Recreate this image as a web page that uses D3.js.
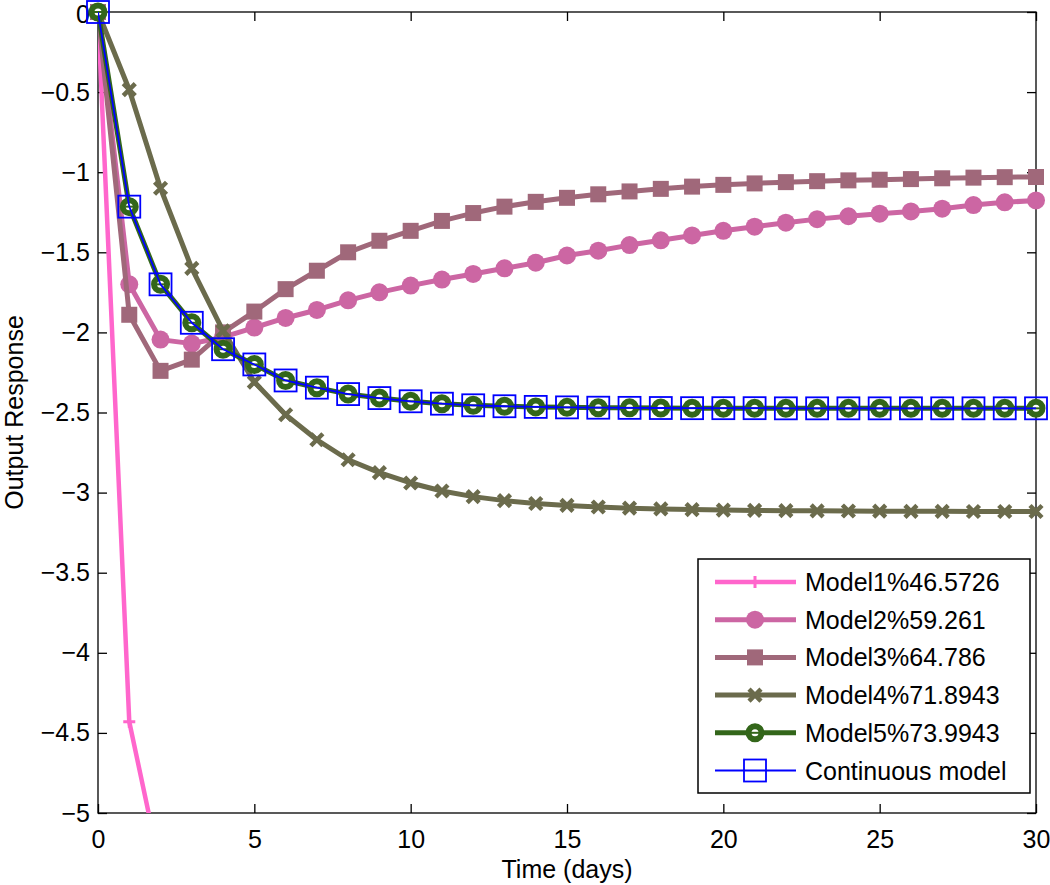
<!DOCTYPE html>
<html>
<head>
<meta charset="utf-8">
<script src="https://cdn.jsdelivr.net/npm/d3@7"></script>
<style>
  body { margin: 0; background: #fff; }
  svg { display: block; }
  text { font-family: "Liberation Sans", Arial, Helvetica, sans-serif; }
</style>
</head>
<body>
<svg id="chart" width="1050" height="885"></svg>
<script>
// ---- Data ----
const days = d3.range(0, 31);
const model1 = [0, -4.43, -5.35];
const model2 = [0, -1.70, -2.045, -2.07, -2.03, -1.97, -1.91, -1.86, -1.80, -1.75, -1.708,
                -1.67, -1.635, -1.60, -1.565, -1.52, -1.49, -1.455, -1.425, -1.395, -1.366,
                -1.34, -1.315, -1.293, -1.275, -1.259, -1.245, -1.228, -1.205, -1.188, -1.176];
const model3 = [0, -1.89, -2.24, -2.17, -2.0, -1.87, -1.73, -1.615, -1.50, -1.428, -1.366,
                -1.304, -1.255, -1.215, -1.185, -1.16, -1.138, -1.12, -1.104, -1.09, -1.079,
                -1.07, -1.062, -1.056, -1.051, -1.047, -1.043, -1.038, -1.034, -1.031, -1.03];
const model4 = [0, -0.485, -1.10, -1.60, -1.99, -2.31, -2.514, -2.67, -2.795, -2.875, -2.94,
                -2.99, -3.025, -3.05, -3.068, -3.08, -3.09, -3.097, -3.102, -3.106, -3.109,
                -3.111, -3.113, -3.114, -3.115, -3.116, -3.117, -3.117, -3.118, -3.118, -3.118];
const model5 = [0, -1.215, -1.70, -1.94, -2.105, -2.20, -2.30, -2.345, -2.385, -2.41, -2.43,
                -2.445, -2.455, -2.461, -2.465, -2.468, -2.47, -2.471, -2.472, -2.473, -2.473,
                -2.473, -2.474, -2.474, -2.474, -2.474, -2.474, -2.474, -2.474, -2.474, -2.474];
const continuous = [0, -1.215, -1.70, -1.94, -2.105, -2.20, -2.30, -2.345, -2.385, -2.41, -2.43,
                -2.445, -2.455, -2.461, -2.465, -2.468, -2.47, -2.471, -2.472, -2.473, -2.473,
                -2.473, -2.474, -2.474, -2.474, -2.474, -2.474, -2.474, -2.474, -2.474, -2.474];
const xTicks = [0, 5, 10, 15, 20, 25, 30];
const yTicks = [0, -0.5, -1, -1.5, -2, -2.5, -3, -3.5, -4, -4.5, -5];
const seriesNames = ["Model1%46.5726", "Model2%59.261", "Model3%64.786",
                     "Model4%71.8943", "Model5%73.9943", "Continuous model"];

// ---- Layout ----
const svg = d3.select("#chart");
const L = 98, R = 1036, T = 12, B = 813;
const x = d3.scaleLinear().domain([0, 30]).range([L, R]);
const y = d3.scaleLinear().domain([-5, 0]).range([B, T]);
const FS = 25;

const series = [
  { name: seriesNames[0], vals: model1, color: "#ff66cc", width: 4.5, marker: "plus" },
  { name: seriesNames[1], vals: model2, color: "#cc66a3", width: 5, marker: "circle" },
  { name: seriesNames[2], vals: model3, color: "#a0687a", width: 5, marker: "square" },
  { name: seriesNames[3], vals: model4, color: "#6b6b4c", width: 5, marker: "x" },
  { name: seriesNames[4], vals: model5, color: "#33661a", width: 5, marker: "ring" },
  { name: seriesNames[5], vals: continuous, color: "#0000ff", width: 1.8, marker: "box" }
];

svg.append("defs").append("clipPath").attr("id", "clip")
  .append("rect").attr("x", L).attr("y", T).attr("width", R - L).attr("height", B - T);

// axes box
const g = svg.append("g");
g.append("rect").attr("x", L).attr("y", T).attr("width", R - L).attr("height", B - T)
  .attr("fill", "#fff").attr("stroke", "#000").attr("stroke-width", 1.3);

const tickLen = 9;
const fmt = d3.format("");
const axB = d3.axisBottom(x).tickValues(xTicks).tickSize(-tickLen).tickPadding(17).tickFormat(fmt);
const axT = d3.axisTop(x).tickValues(xTicks).tickSize(-tickLen).tickFormat("");
const axL = d3.axisLeft(y).tickValues(yTicks).tickSize(-tickLen).tickPadding(8).tickFormat(fmt);
const axR = d3.axisRight(y).tickValues(yTicks).tickSize(-tickLen).tickFormat("");
function style(sel) {
  sel.select(".domain").remove();
  sel.selectAll(".tick line").attr("stroke", "#000").attr("stroke-width", 1.3);
  sel.selectAll(".tick text").attr("font-size", FS).attr("fill", "#000")
     .style("font-family", '"Liberation Sans", Arial, sans-serif');
}
g.append("g").attr("transform", `translate(0,${B})`).call(axB).call(style);
g.append("g").attr("transform", `translate(0,${T})`).call(axT).call(style);
g.append("g").attr("transform", `translate(${L},0)`).call(axL).call(style);
g.append("g").attr("transform", `translate(${R},0)`).call(axR).call(style);
// keep the top "0" label inside the picture
g.selectAll("text").filter(function () { return this.textContent === "0" && +d3.select(this.parentNode).datum() === 0 && this.getAttribute("x") !== null && +this.getAttribute("x") < 0; })
  .attr("dy", "0.42em");

// axis titles
svg.append("text").attr("x", (L + R) / 2).attr("y", 878).attr("text-anchor", "middle")
  .attr("font-size", FS).text("Time (days)");
svg.append("text").attr("transform", `translate(23,${(T + B) / 2}) rotate(-90)`)
  .attr("text-anchor", "middle").attr("font-size", FS).text("Output Response");

// markers
function drawMarker(sel, type, color, cx, cy) {
  const m = sel.append("g").attr("transform", `translate(${cx},${cy})`);
  if (type === "plus") {
    m.append("path").attr("d", "M-6,0H6M0,-6V6").attr("stroke", color).attr("stroke-width", 3).attr("fill", "none");
  } else if (type === "circle") {
    m.append("circle").attr("r", 9).attr("fill", color);
  } else if (type === "square") {
    m.append("rect").attr("x", -8).attr("y", -8).attr("width", 16).attr("height", 16).attr("fill", color);
  } else if (type === "x") {
    m.append("path").attr("d", "M-6,-6L6,6M-6,6L6,-6").attr("stroke", color).attr("stroke-width", 4.5).attr("fill", "none");
  } else if (type === "ring") {
    m.append("circle").attr("r", 6.5).attr("fill", "#fff").attr("stroke", color).attr("stroke-width", 6);
    m.append("path").attr("d", "M-4,0H4").attr("stroke", color).attr("stroke-width", 2);
  } else if (type === "box") {
    m.append("rect").attr("x", -11).attr("y", -11).attr("width", 22).attr("height", 22)
      .attr("fill", "none").attr("stroke", color).attr("stroke-width", 1.8);
  }
}

const line = d3.line().x((d, i) => x(days[i])).y(d => y(d));
const plot = svg.append("g");
series.forEach(s => {
  plot.append("path").attr("d", line(s.vals)).attr("fill", "none")
    .attr("stroke", s.color).attr("stroke-width", s.width)
    .attr("stroke-linejoin", "round").attr("clip-path", "url(#clip)");
  const mg = plot.append("g");
  s.vals.forEach((v, i) => {
    if (v >= -5 && v <= 0) drawMarker(mg, s.marker, s.color, x(days[i]), y(v));
  });
});

// legend
const lg = svg.append("g");
const lx = 698, ly = 559, lw = 332, lh = 234;
lg.append("rect").attr("x", lx).attr("y", ly).attr("width", lw).attr("height", lh)
  .attr("fill", "#fff").attr("stroke", "#000").attr("stroke-width", 1.5);
series.forEach((s, i) => {
  const cy = ly + 23 + i * 37.7;
  lg.append("line").attr("x1", lx + 17).attr("x2", lx + 98).attr("y1", cy).attr("y2", cy)
    .attr("stroke", s.color).attr("stroke-width", s.width);
  drawMarker(lg, s.marker, s.color, lx + 57, cy);
  lg.append("text").attr("x", lx + 107).attr("y", cy + 9).attr("font-size", FS).text(s.name);
});
</script>
</body>
</html>
